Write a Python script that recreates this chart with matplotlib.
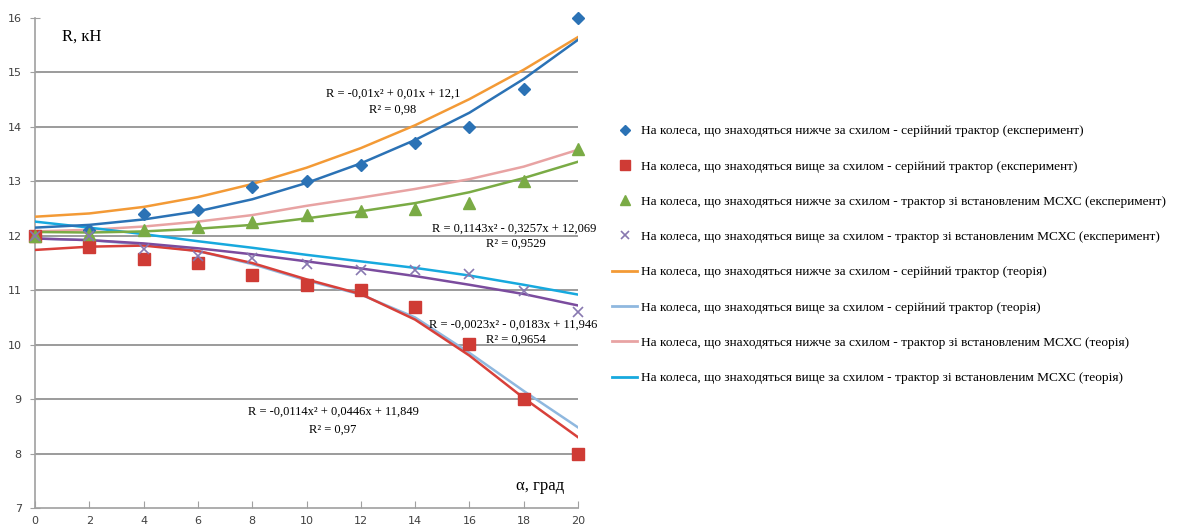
import numpy as np
import matplotlib
matplotlib.use('Agg')
import matplotlib.pyplot as plt
from matplotlib.lines import Line2D

# slope angle, degrees
alpha = [0, 2, 4, 6, 8, 10, 12, 14, 16, 18, 20]

# experiment points
exp_low_serial = [12.0, 12.1, 12.4, 12.48, 12.9, 13.0, 13.3, 13.7, 14.0, 14.7, 16.0]
exp_up_serial = [12.0, 11.79, 11.58, 11.5, 11.28, 11.1, 11.0, 10.7, 10.02, 9.0, 8.0]
exp_low_mcxc = [12.0, 12.03, 12.1, 12.17, 12.26, 12.39, 12.45, 12.5, 12.6, 13.0, 13.6]
exp_up_mcxc = [12.0, 12.0, 11.76, 11.62, 11.6, 11.49, 11.38, 11.38, 11.3, 10.98, 10.6]

# theory curves
th_low_serial = [12.35, 12.41, 12.53, 12.71, 12.95, 13.25, 13.61, 14.03, 14.51, 15.05, 15.65]
th_up_serial = [11.95, 11.92, 11.84, 11.72, 11.48, 11.18, 10.92, 10.5, 9.85, 9.15, 8.48]
th_low_mcxc = [12.08, 12.11, 12.17, 12.26, 12.38, 12.55, 12.7, 12.86, 13.04, 13.27, 13.58]
th_up_mcxc = [12.26, 12.15, 12.03, 11.9, 11.78, 11.65, 11.53, 11.41, 11.27, 11.1, 10.92]

# trend lines through the experiment points
tr_low_serial = [12.15, 12.2, 12.3, 12.45, 12.67, 12.97, 13.33, 13.76, 14.26, 14.88, 15.6]
tr_up_serial = [11.74, 11.8, 11.82, 11.72, 11.5, 11.2, 10.93, 10.46, 9.8, 9.02, 8.3]
tr_low_mcxc = [12.07, 12.06, 12.08, 12.13, 12.2, 12.32, 12.45, 12.6, 12.8, 13.06, 13.36]
tr_up_mcxc = [11.95, 11.92, 11.86, 11.77, 11.66, 11.53, 11.4, 11.26, 11.1, 10.93, 10.72]

labels = [
    'На колеса, що знаходяться нижче за схилом - серійний трактор (експеримент)',
    'На колеса, що знаходяться вище за схилом - серійний трактор (експеримент)',
    'На колеса, що знаходяться нижче за схилом - трактор зі встановленим МСХС (експеримент)',
    'На колеса, що знаходяться вище за схилом - трактор зі встановленим МСХС (експеримент)',
    'На колеса, що знаходяться нижче за схилом - серійний трактор (теорія)',
    'На колеса, що знаходяться вище за схилом - серійний трактор (теорія)',
    'На колеса, що знаходяться нижче за схилом - трактор зі встановленим МСХС (теорія)',
    'На колеса, що знаходяться вище за схилом - трактор зі встановленим МСХС (теорія)',
]

c_blue = '#2b72b5'
c_red = '#cf3b35'
c_green = '#7aab45'
c_purple = '#8878b0'
c_orange = '#f39a36'
c_lblue = '#8fb8df'
c_pink = '#e8a3a3'
c_cyan = '#17a9de'
c_tr_purple = '#7b4c9e'
c_tr_red = '#d8403a'

serif = 'Liberation Serif'

fig = plt.figure(figsize=(11.87, 5.32), dpi=100)
ax = fig.add_axes([35 / 1187, 24 / 532, 543 / 1187, 490 / 532])

lw = 1.8
# theory
ax.plot(alpha, th_low_serial, color=c_orange, lw=lw, zorder=3)
ax.plot(alpha, th_up_serial, color=c_lblue, lw=lw, zorder=3)
ax.plot(alpha, th_low_mcxc, color=c_pink, lw=lw, zorder=3)
ax.plot(alpha, th_up_mcxc, color=c_cyan, lw=lw, zorder=3)
# trends
ax.plot(alpha, tr_low_serial, color=c_blue, lw=lw, zorder=3)
ax.plot(alpha, tr_up_serial, color=c_tr_red, lw=lw, zorder=3)
ax.plot(alpha, tr_low_mcxc, color=c_green, lw=lw, zorder=3)
ax.plot(alpha, tr_up_mcxc, color=c_tr_purple, lw=lw, zorder=3)
# experiment
ax.plot(alpha, exp_low_serial, 'D', color=c_blue, ms=6, ls='none', clip_on=False, zorder=4)
ax.plot(alpha, exp_up_serial, 's', color=c_red, ms=8, ls='none', clip_on=False, zorder=4)
ax.plot(alpha, exp_low_mcxc, '^', color=c_green, ms=8, ls='none', clip_on=False, zorder=4)
ax.plot(alpha, exp_up_mcxc, 'x', color=c_purple, ms=7, mew=1.2, ls='none', clip_on=False, zorder=4)

ax.set_xlim(0, 20)
ax.set_ylim(7, 16)
ax.set_xticks(range(0, 21, 2))
ax.set_yticks(range(7, 17))
ax.grid(axis='y', color='#8a8a8a', lw=1.2)
ax.get_ygridlines()[-1].set_visible(False)
ax.get_ygridlines()[0].set_visible(False)
ax.set_axisbelow(True)
for s in ['top', 'right']:
    ax.spines[s].set_visible(False)
for s in ['left', 'bottom']:
    ax.spines[s].set_color('#a0a0a0')
    ax.spines[s].set_linewidth(1.2)
ax.tick_params(axis='y', direction='inout', length=7, color='#a0a0a0', labelsize=8, labelcolor='#404040', pad=6)
ax.tick_params(axis='x', direction='in', length=5, color='#a0a0a0', labelsize=8, labelcolor='#404040', pad=6)

ax.text(1.0, 15.65, 'R, кН', family=serif, fontsize=12, ha='left', va='center')
ax.text(19.5, 7.4, 'α, град', family=serif, fontsize=12, ha='right', va='center')

fs = 9
ax.text(13.19, 14.61, 'R = -0,01x² + 0,01x + 12,1', family=serif, fontsize=fs, ha='center', va='center')
ax.text(13.19, 14.31, 'R² = 0,98', family=serif, fontsize=fs, ha='center', va='center')
ax.text(17.64, 12.13, 'R = 0,1143x² - 0,3257x + 12,069', family=serif, fontsize=fs, ha='center', va='center')
ax.text(17.7, 11.85, 'R² = 0,9529', family=serif, fontsize=fs, ha='center', va='center')
ax.text(17.6, 10.37, 'R = -0,0023x² - 0,0183x + 11,946', family=serif, fontsize=fs, ha='center', va='center')
ax.text(17.7, 10.09, 'R² = 0,9654', family=serif, fontsize=fs, ha='center', va='center')
ax.text(10.98, 8.77, 'R = -0,0114x² + 0,0446x + 11,849', family=serif, fontsize=fs, ha='center', va='center')
ax.text(10.98, 8.44, 'R² = 0,97', family=serif, fontsize=fs, ha='center', va='center')

handles = [
    Line2D([], [], marker='D', color=c_blue, ls='none', ms=5),
    Line2D([], [], marker='s', color=c_red, ls='none', ms=7),
    Line2D([], [], marker='^', color=c_green, ls='none', ms=7),
    Line2D([], [], marker='x', color=c_purple, ls='none', ms=6, mew=1.2),
    Line2D([], [], color=c_orange, lw=2),
    Line2D([], [], color=c_lblue, lw=2),
    Line2D([], [], color=c_pink, lw=2),
    Line2D([], [], color=c_cyan, lw=2),
]
fig.legend(handles, labels, loc='upper left', bbox_to_anchor=(612 / 1187, 1 - 125 / 532),
           frameon=False, prop={'family': serif, 'size': 9.6}, labelspacing=1.72,
           handlelength=1.9, handletextpad=0.3, borderpad=0, borderaxespad=0)

fig.savefig('out.png', dpi=100)
